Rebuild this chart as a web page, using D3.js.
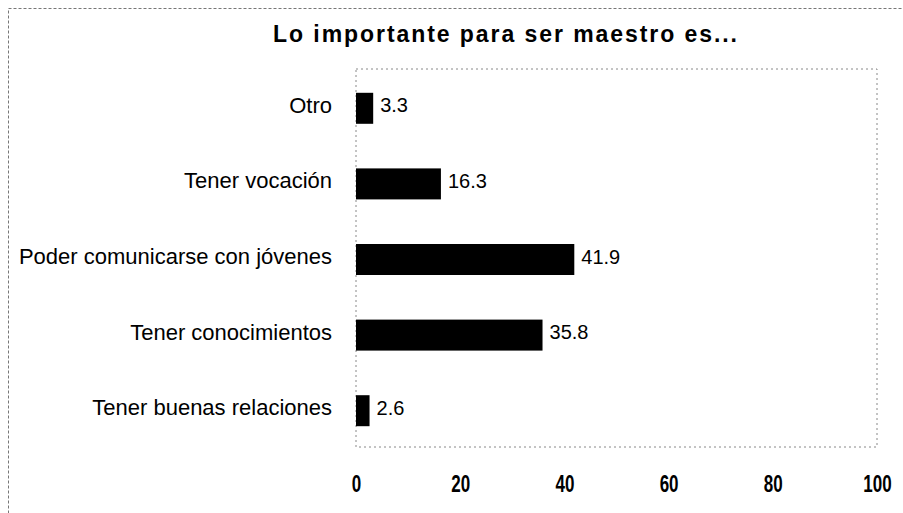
<html lang="es">
<head>
<meta charset="UTF-8">
<title>Lo importante para ser maestro es...</title>
<script src="https://d3js.org/d3.v7.min.js"></script>
<style>
  body { margin: 0; background: #fff; }
  text { font-family: "Liberation Sans", Arial, sans-serif; fill: #000; }
</style>
</head>
<body>
<div id="chart"></div>
<script>
const categories = ["Otro", "Tener vocación", "Poder comunicarse con jóvenes", "Tener conocimientos", "Tener buenas relaciones"];
const values = [3.3, 16.3, 41.9, 35.8, 2.6];
const xTicks = [0, 20, 40, 60, 80, 100];

const svg = d3.select("#chart")
  .append("svg")
  .attr("width", 903)
  .attr("height", 513);

// outer dashed frame
svg.append("rect")
  .attr("x", 8.5).attr("y", 8.5)
  .attr("width", 905).attr("height", 520)
  .attr("fill", "none")
  .attr("stroke", "#777")
  .attr("stroke-width", 1)
  .attr("stroke-dasharray", "3,2");

svg.append("text")
  .attr("x", 505).attr("y", 42)
  .attr("text-anchor", "middle")
  .style("font-size", "23px")
  .style("font-weight", "bold")
  .attr("textLength", 464)
  .attr("lengthAdjust", "spacing")
  .text("Lo importante para ser maestro es...");

const plotLeft = 356, plotRight = 877, plotTop = 69, plotBottom = 447;

var x = d3.scaleLinear().domain([0, 100]).range([plotLeft, plotRight]);
var y = d3.scaleBand().domain(categories).range([plotTop + 1.5, plotBottom + 1.5])
  .paddingInner(0.59).paddingOuter(0.295);

// plot area border
svg.append("rect")
  .attr("x", plotLeft).attr("y", plotTop)
  .attr("width", plotRight - plotLeft).attr("height", plotBottom - plotTop)
  .attr("fill", "none")
  .attr("stroke", "#888")
  .attr("stroke-width", 1)
  .attr("stroke-dasharray", "2,3");

svg.selectAll(".bar")
  .data(values)
  .enter()
  .append("rect")
    .attr("x", x(0))
    .attr("y", (d, i) => y(categories[i]))
    .attr("width", d => x(d) - x(0))
    .attr("height", y.bandwidth())
    .attr("fill", "#000");

svg.selectAll(".val")
  .data(values)
  .enter()
  .append("text")
    .attr("x", d => x(d) + 7)
    .attr("y", (d, i) => y(categories[i]) + y.bandwidth() / 2)
    .attr("dy", "0.2em")
    .style("font-size", "20px")
    .text(d => d.toFixed(1));

svg.selectAll(".cat")
  .data(categories)
  .enter()
  .append("text")
    .attr("x", 332)
    .attr("y", d => y(d) + y.bandwidth() / 2)
    .attr("dy", "0.2em")
    .attr("text-anchor", "end")
    .style("font-size", "22px")
    .text(d => d);

var xAxis = d3.axisBottom(x).tickValues(xTicks).tickSize(0).tickPadding(0);
const gx = svg.append("g")
  .attr("transform", `translate(0, 476)`)
  .call(xAxis);
gx.select(".domain").remove();
gx.selectAll("text")
  .attr("transform", "scale(0.74,1)")
  .style("font-size", "23px")
  .style("font-weight", "bold")
  .style("font-family", "\"Liberation Sans\", Arial, sans-serif");
</script>
</body>
</html>
